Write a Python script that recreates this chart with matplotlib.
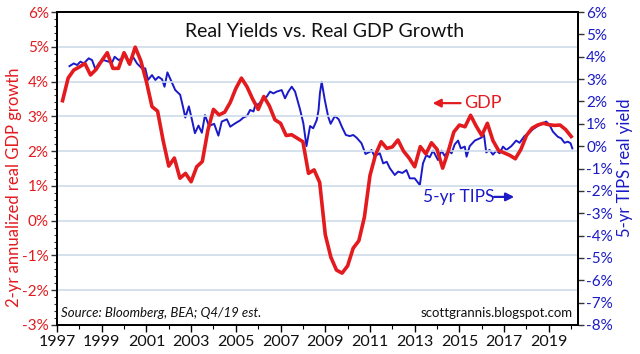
import numpy as np
import matplotlib
matplotlib.use('Agg')
import matplotlib.pyplot as plt
from matplotlib.ticker import MultipleLocator, FuncFormatter

plt.rcParams['font.family'] = ['Lato', 'DejaVu Sans']

# 2-yr annualized real GDP growth, quarterly (first point 1997 Q1)
gdp_start = 1997.25
gdp_vals = [3.45, 4.1, 4.33,
            4.42, 4.52, 4.19, 4.35,
            4.6, 4.83, 4.38, 4.38,
            4.83, 4.5, 4.99, 4.6,
            4.0, 3.28, 3.15, 2.3,
            1.57, 1.8, 1.22, 1.36,
            1.12, 1.55, 1.7, 2.6,
            3.2, 3.04, 3.12, 3.4,
            3.8, 4.1, 3.85, 3.5,
            3.2, 3.57, 3.3, 2.9,
            2.8, 2.45, 2.47, 2.37,
            2.27, 1.36, 1.46, 1.1,
            -0.4, -1.05, -1.42, -1.51,
            -1.3, -0.79, -0.58, 0.1,
            1.3, 1.9, 2.27, 2.08,
            2.12, 2.32, 2.0, 1.8,
            1.55, 2.13, 1.92, 2.24,
            2.05, 1.51, 1.99, 2.55,
            2.75, 2.7, 3.03, 2.72,
            2.45, 2.8, 2.3, 2.02,
            1.95, 1.88, 1.78, 2.05,
            2.45, 2.66, 2.75, 2.8,
            2.76, 2.74, 2.75, 2.62,
            2.42]
gdp_dates = gdp_start + 0.25 * np.arange(len(gdp_vals))

# 5-yr TIPS real yield
tips_dates = [1997.56, 1997.75, 1997.90, 1998.05, 1998.20, 1998.42, 1998.57, 1998.72, 1998.87,
              1999.09, 1999.31, 1999.46, 1999.58, 1999.76, 1999.91, 2000.09, 2000.20, 2000.38,
              2000.58, 2000.80, 2000.95, 2001.07, 2001.25, 2001.40, 2001.54, 2001.70, 2001.81,
              2001.94, 2002.11, 2002.29, 2002.51, 2002.65, 2002.74, 2002.90, 2003.04, 2003.17,
              2003.33, 2003.48, 2003.62, 2003.80, 2004.03, 2004.22, 2004.37, 2004.60, 2004.75,
              2004.97, 2005.19, 2005.34, 2005.50, 2005.64, 2005.79, 2005.89, 2006.00, 2006.23,
              2006.38, 2006.53, 2006.68, 2006.83, 2007.05, 2007.20, 2007.35, 2007.50, 2007.65,
              2007.87, 2008.02, 2008.16, 2008.32, 2008.46, 2008.62, 2008.70, 2008.76, 2008.84,
              2008.98, 2009.13, 2009.24, 2009.43, 2009.60, 2009.75, 2009.92, 2010.10, 2010.25,
              2010.40, 2010.62, 2010.80, 2011.00, 2011.07, 2011.20, 2011.44, 2011.59, 2011.75,
              2011.89, 2012.11, 2012.26, 2012.45, 2012.63, 2012.78, 2013.00, 2013.23, 2013.37,
              2013.52, 2013.67, 2013.82, 2014.04, 2014.20, 2014.35, 2014.50, 2014.65, 2014.79,
              2014.94, 2015.06, 2015.24, 2015.32, 2015.46, 2015.69, 2015.98, 2016.10, 2016.20,
              2016.35, 2016.50, 2016.65, 2016.80, 2016.95, 2017.10, 2017.32, 2017.54, 2017.69,
              2017.91, 2018.13, 2018.28, 2018.50, 2018.73, 2018.88, 2019.03, 2019.18, 2019.40,
              2019.55, 2019.70, 2019.85, 2019.97, 2020.05]
tips_vals = [3.58, 3.70, 3.63, 3.78, 3.70, 3.93, 3.85, 3.44, 3.70,
             3.85, 3.78, 3.73, 4.00, 3.85, 3.93, 4.08, 3.70, 4.03,
             3.70, 3.48, 3.48, 2.96, 3.18, 2.96, 3.10, 2.99, 2.66,
             3.30, 2.92, 2.51, 2.30, 1.70, 1.28, 1.78, 1.17, 0.58,
             0.92, 0.60, 1.39, 0.90, 1.00, 0.47, 1.10, 1.20, 0.87,
             1.02, 1.15, 1.28, 1.35, 1.62, 1.55, 1.90, 1.85, 2.14,
             2.21, 2.44, 2.36, 2.44, 2.51, 2.14, 2.44, 2.66, 2.44,
             1.65, 1.02, 0.00, 0.90, 0.80, 1.17, 1.62, 2.36, 2.88,
             2.06, 1.32, 1.00, 1.35, 1.20, 0.85, 0.50, 0.45, 0.50,
             0.38, 0.13, -0.35, -0.25, -0.17, -0.45, -0.32, -0.77, -0.70,
             -0.99, -1.29, -1.14, -1.20, -1.07, -1.44, -1.44, -1.74, -0.77,
             -0.40, -0.50, -0.20, -0.62, -0.20, -0.45, -0.17, -0.32, 0.08,
             0.25, -0.10, -0.02, -0.47, 0.00, 0.25, 0.38, 0.50, -0.28,
             -0.17, -0.38, -0.20, -0.32, -0.02, -0.17, 0.00, 0.25, 0.15,
             0.45, 0.60, 0.75, 0.90, 1.02, 1.10, 0.95, 0.65, 0.42,
             0.35, 0.15, 0.20, 0.13, -0.10]

year_ticks = list(range(1997, 2021, 2))

red = '#e31b1f'
blue = '#1a1ac8'
pct = FuncFormatter(lambda v, p: '%d%%' % round(v))

fig = plt.figure(figsize=(6.4, 3.54), dpi=100)
ax = fig.add_axes([0.089, 0.082, 0.814, 0.884])
ax2 = ax.twinx()

ax.set_xlim(1997, 2020.3)
ax.set_ylim(-3, 6)
ax2.set_ylim(-8, 6)

ax.yaxis.set_major_locator(MultipleLocator(1))
ax.yaxis.set_minor_locator(MultipleLocator(0.2))
ax.yaxis.set_major_formatter(pct)
ax2.yaxis.set_major_locator(MultipleLocator(1))
ax2.yaxis.set_major_formatter(pct)
ax.set_xticks(year_ticks)
ax.set_xticklabels([str(y) for y in year_ticks])
ax.xaxis.set_minor_locator(MultipleLocator(1))

ax.grid(axis='y', color='#cddbea', linewidth=1.2)
ax.set_axisbelow(True)

ax.tick_params(axis='y', colors=red, labelsize=11, length=4, width=1, pad=2)
ax.tick_params(axis='y', which='minor', length=2.5, width=0.8)
ax.tick_params(axis='x', labelsize=11.5, length=5, width=1, pad=2, labelcolor='#111111')
ax.tick_params(axis='x', which='minor', length=3, width=0.8)
ax2.tick_params(axis='y', colors=blue, labelsize=11, length=4, width=1, pad=2)
for a in (ax, ax2):
    for s in a.spines.values():
        s.set_linewidth(1.4)
        s.set_color('black')
ax.tick_params(axis='y', which='both', color='#333333')
ax2.tick_params(axis='y', color='#333333')

ax2.plot(tips_dates, tips_vals, color=blue, linewidth=1.4)
ax.plot(gdp_dates, gdp_vals, color=red, linewidth=2.6, solid_joinstyle='round')
ax.set_zorder(ax2.get_zorder() + 1)
ax.patch.set_visible(False)

ax.text(0.513, 0.919, 'Real Yields vs. Real GDP Growth', transform=ax.transAxes,
        ha='center', va='baseline', fontsize=14, color='#111111')
ax.text(0.007, 0.025, 'Source: Bloomberg, BEA; Q4/19 est.', transform=ax.transAxes,
        ha='left', va='baseline', fontsize=9.5, style='italic', color='#111111')
ax.text(0.99, 0.025, 'scottgrannis.blogspot.com', transform=ax.transAxes,
        ha='right', va='baseline', fontsize=9.5, color='#111111')

# series labels with arrows
ax.annotate('', xy=(2013.8, 3.38), xytext=(2015.05, 3.38),
            arrowprops=dict(arrowstyle='-|>', color=red, lw=1.6, mutation_scale=12,
                            shrinkA=0, shrinkB=0))
ax.text(2015.2, 3.38, 'GDP', color=red, fontsize=13, ha='left', va='center')
ax2.text(2013.35, -2.27, '5-yr TIPS', color=blue, fontsize=12.5, ha='left', va='center')
ax2.annotate('', xy=(2017.45, -2.27), xytext=(2016.55, -2.27),
             arrowprops=dict(arrowstyle='-|>', color=blue, lw=1.6, mutation_scale=12,
                             shrinkA=0, shrinkB=0))

fig.text(0.022, 0.47, '2-yr annualized real GDP growth', rotation=90, color=red,
         fontsize=12, ha='center', va='center')
fig.text(0.977, 0.527, '5-yr TIPS real yield', rotation=90, color=blue,
         fontsize=12, ha='center', va='center')

fig.savefig('out.png', dpi=100)
